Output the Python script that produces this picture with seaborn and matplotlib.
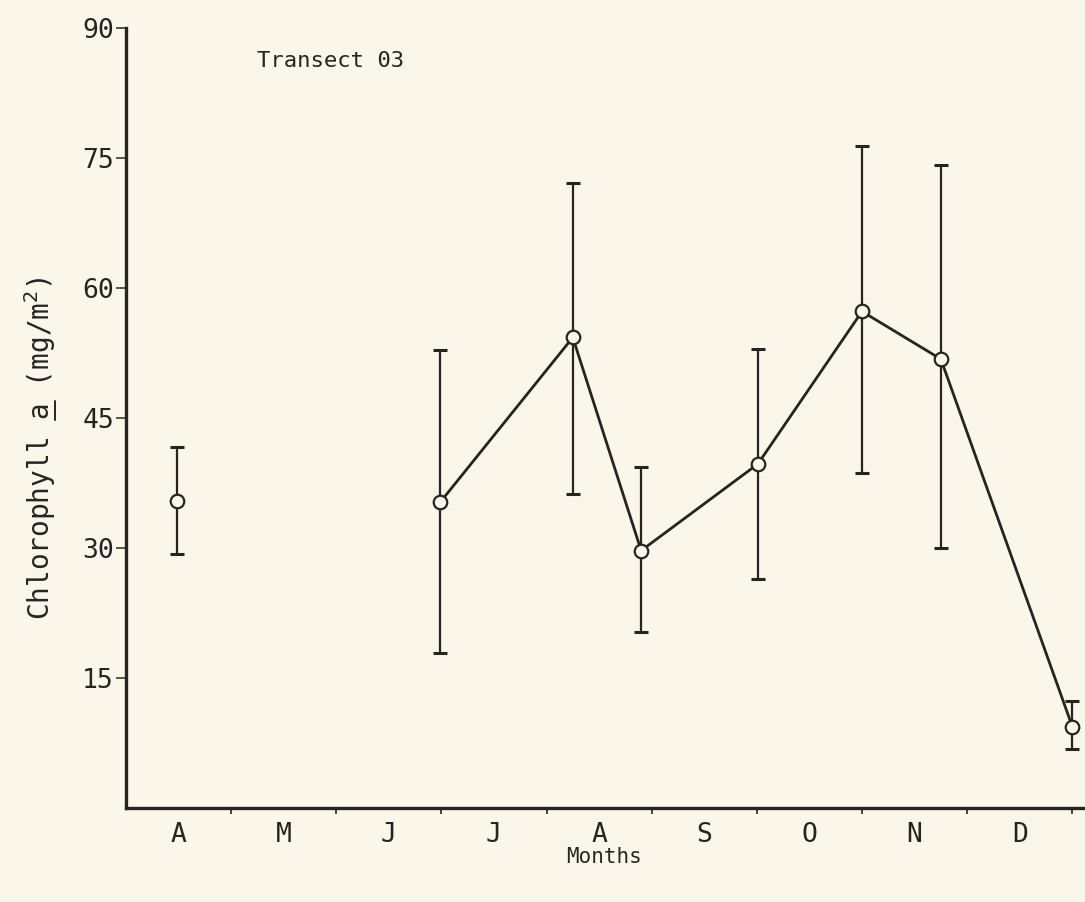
import numpy as np
import pandas as pd
import matplotlib
matplotlib.use("Agg")
import matplotlib.pyplot as plt
from matplotlib.lines import Line2D
from matplotlib.transforms import IdentityTransform
import seaborn as sns

# Chlorophyll a samples, Transect 03 (x in months since 1 April)
month_pos = [0.49, 2.99, 4.25, 4.90, 6.01, 7.00, 7.75, 9.00]
chl_mean = [35.4, 35.3, 54.3, 29.7, 39.7, 57.3, 51.8, 9.4]
chl_upper = [41.7, 52.8, 72.1, 39.4, 53.0, 76.4, 74.2, 12.4]
chl_lower = [29.3, 17.9, 36.2, 20.3, 26.4, 38.6, 30.0, 6.8]
connected = [False, True, True, True, True, True, True, True]

month_labels = ["A", "M", "J", "J", "A", "S", "O", "N", "D"]
y_ticks = [15, 30, 45, 60, 75, 90]

paper = "#fbf6ea"
ink = "#262422"

sns.set_theme(style="white")
plt.rcParams["font.family"] = ["DejaVu Sans Mono", "DejaVu Sans"]
plt.rcParams["mathtext.fontset"] = "dejavusans"

df = pd.DataFrame({
    "month": month_pos,
    "chl": chl_mean,
    "hi": chl_upper,
    "lo": chl_lower,
    "joined": connected,
})

fig = plt.figure(figsize=(10.85, 9.02), dpi=100, facecolor=paper)
ax = fig.add_axes([0.116, 0.1042, 0.882, 0.8647])
ax.set_facecolor(paper)

# error bars
yerr = np.vstack([df["chl"] - df["lo"], df["hi"] - df["chl"]])
ax.errorbar(df["month"], df["chl"], yerr=yerr, fmt="none", ecolor=ink,
            elinewidth=1.6, capsize=5, capthick=2.2, zorder=2)

# connected series
sns.lineplot(data=df[df["joined"]], x="month", y="chl", ax=ax, color=ink,
             linewidth=2.0, sort=True, zorder=3)

# open circle markers
sns.scatterplot(data=df, x="month", y="chl", ax=ax, s=95, marker="o",
                facecolor=paper, edgecolor=ink, linewidth=1.6, zorder=4)

ax.set_xlim(0, 9.1)
ax.set_ylim(0, 90)

ax.set_xticks(np.arange(1, 10))
ax.set_xticklabels([])
ax.set_xticks(np.arange(0.5, 9.0, 1.0), minor=True)
ax.set_xticklabels(month_labels, minor=True)
ax.tick_params(axis="x", which="major", direction="out", length=4, width=1.2,
               color=ink, bottom=True)
ax.tick_params(axis="x", which="minor", length=0, pad=10, labelsize=19,
               labelcolor=ink, bottom=True)

ax.set_yticks(y_ticks)
ax.set_yticklabels([str(v) for v in y_ticks])
ax.tick_params(axis="y", direction="out", length=7, width=1.1, color=ink,
               pad=1.5, labelsize=19, labelcolor=ink, left=True)

for side in ("top", "right"):
    ax.spines[side].set_visible(False)
for side in ("left", "bottom"):
    ax.spines[side].set_color(ink)
    ax.spines[side].set_linewidth(2.4)

ax.set_xlabel("Months", fontsize=15, color=ink)
ax.xaxis.set_label_coords(0.5, -0.05)

label_props = dict(fontsize=20, color=ink, rotation=90, rotation_mode="anchor",
                   ha="left", va="baseline")
ax.set_ylabel("Chlorophyll a (mg/m$^2$)", **label_props)
ax.yaxis.set_label_coords(-0.0794, 0.241)

ax.text(1.25, 86.2, "Transect 03", fontsize=16, color=ink, va="center", ha="left")

# underline the "a" of the y label
fig.canvas.draw()
renderer = fig.canvas.get_renderer()
ylab = ax.yaxis.label
x0, y0 = ylab.get_transform().transform(ylab.get_position())
probe = fig.text(0, 0, "Chlorophyll a", fontsize=20, rotation=90,
                 rotation_mode="anchor", ha="left", va="baseline")
full_len = probe.get_window_extent(renderer).height
probe.set_text("a")
a_len = probe.get_window_extent(renderer).height
probe.remove()
ux = x0 + 5
fig.add_artist(Line2D([ux, ux], [y0 + full_len - a_len - 1, y0 + full_len + 1],
                      transform=IdentityTransform(), color=ink, linewidth=1.4))

fig.savefig("out.png", dpi=100, facecolor=paper)
